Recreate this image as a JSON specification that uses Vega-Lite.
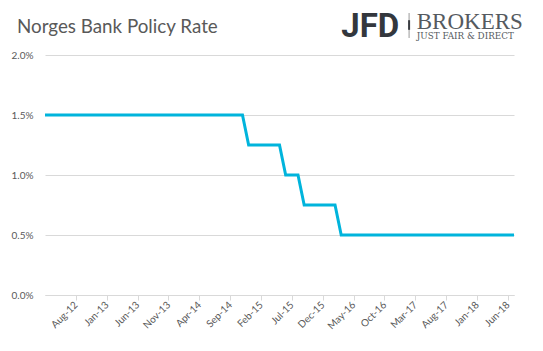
{
  "$schema": "https://vega.github.io/schema/vega-lite/v6.json",
  "width": 469,
  "height": 240,
  "autosize": {"type": "none"},
  "padding": {"left": 45, "top": 55, "right": 29, "bottom": 56},
  "background": "white",
  "config": {
    "view": {"stroke": null},
    "font": "Lato",
    "axis": {
      "labelFont": "Lato",
      "labelFontSize": 10,
      "labelColor": "#595959",
      "gridColor": "#d9d9d9",
      "domainColor": "#d9d9d9",
      "tickColor": "#d9d9d9"
    }
  },
  "datasets": {
    "rates": [
      {"month": "Mar-12", "rate": 0.015},
      {"month": "Apr-12", "rate": 0.015},
      {"month": "May-12", "rate": 0.015},
      {"month": "Jun-12", "rate": 0.015},
      {"month": "Jul-12", "rate": 0.015},
      {"month": "Aug-12", "rate": 0.015},
      {"month": "Sep-12", "rate": 0.015},
      {"month": "Oct-12", "rate": 0.015},
      {"month": "Nov-12", "rate": 0.015},
      {"month": "Dec-12", "rate": 0.015},
      {"month": "Jan-13", "rate": 0.015},
      {"month": "Feb-13", "rate": 0.015},
      {"month": "Mar-13", "rate": 0.015},
      {"month": "Apr-13", "rate": 0.015},
      {"month": "May-13", "rate": 0.015},
      {"month": "Jun-13", "rate": 0.015},
      {"month": "Jul-13", "rate": 0.015},
      {"month": "Aug-13", "rate": 0.015},
      {"month": "Sep-13", "rate": 0.015},
      {"month": "Oct-13", "rate": 0.015},
      {"month": "Nov-13", "rate": 0.015},
      {"month": "Dec-13", "rate": 0.015},
      {"month": "Jan-14", "rate": 0.015},
      {"month": "Feb-14", "rate": 0.015},
      {"month": "Mar-14", "rate": 0.015},
      {"month": "Apr-14", "rate": 0.015},
      {"month": "May-14", "rate": 0.015},
      {"month": "Jun-14", "rate": 0.015},
      {"month": "Jul-14", "rate": 0.015},
      {"month": "Aug-14", "rate": 0.015},
      {"month": "Sep-14", "rate": 0.015},
      {"month": "Oct-14", "rate": 0.015},
      {"month": "Nov-14", "rate": 0.015},
      {"month": "Dec-14", "rate": 0.0125},
      {"month": "Jan-15", "rate": 0.0125},
      {"month": "Feb-15", "rate": 0.0125},
      {"month": "Mar-15", "rate": 0.0125},
      {"month": "Apr-15", "rate": 0.0125},
      {"month": "May-15", "rate": 0.0125},
      {"month": "Jun-15", "rate": 0.01},
      {"month": "Jul-15", "rate": 0.01},
      {"month": "Aug-15", "rate": 0.01},
      {"month": "Sep-15", "rate": 0.0075},
      {"month": "Oct-15", "rate": 0.0075},
      {"month": "Nov-15", "rate": 0.0075},
      {"month": "Dec-15", "rate": 0.0075},
      {"month": "Jan-16", "rate": 0.0075},
      {"month": "Feb-16", "rate": 0.0075},
      {"month": "Mar-16", "rate": 0.005},
      {"month": "Apr-16", "rate": 0.005},
      {"month": "May-16", "rate": 0.005},
      {"month": "Jun-16", "rate": 0.005},
      {"month": "Jul-16", "rate": 0.005},
      {"month": "Aug-16", "rate": 0.005},
      {"month": "Sep-16", "rate": 0.005},
      {"month": "Oct-16", "rate": 0.005},
      {"month": "Nov-16", "rate": 0.005},
      {"month": "Dec-16", "rate": 0.005},
      {"month": "Jan-17", "rate": 0.005},
      {"month": "Feb-17", "rate": 0.005},
      {"month": "Mar-17", "rate": 0.005},
      {"month": "Apr-17", "rate": 0.005},
      {"month": "May-17", "rate": 0.005},
      {"month": "Jun-17", "rate": 0.005},
      {"month": "Jul-17", "rate": 0.005},
      {"month": "Aug-17", "rate": 0.005},
      {"month": "Sep-17", "rate": 0.005},
      {"month": "Oct-17", "rate": 0.005},
      {"month": "Nov-17", "rate": 0.005},
      {"month": "Dec-17", "rate": 0.005},
      {"month": "Jan-18", "rate": 0.005},
      {"month": "Feb-18", "rate": 0.005},
      {"month": "Mar-18", "rate": 0.005},
      {"month": "Apr-18", "rate": 0.005},
      {"month": "May-18", "rate": 0.005},
      {"month": "Jun-18", "rate": 0.005},
      {"month": "Jul-18", "rate": 0.005}
    ],
    "one": [{}]
  },
  "layer": [
    {
      "data": {"name": "rates"},
      "mark": {"type": "line", "color": "#00b4dc", "strokeWidth": 3, "strokeCap": "butt", "strokeJoin": "miter"},
      "encoding": {
        "x": {
          "field": "month",
          "type": "ordinal",
          "sort": null,
          "scale": {"type": "point", "padding": 0},
          "axis": {
            "title": null,
            "values": ["Mar-12", "Aug-12", "Jan-13", "Jun-13", "Nov-13", "Apr-14", "Sep-14", "Feb-15", "Jul-15", "Dec-15", "May-16", "Oct-16", "Mar-17", "Aug-17", "Jan-18", "Jun-18"],
            "labelAngle": -45,
            "labelAlign": "right",
            "labelBaseline": "middle",
            "labelPadding": 3,
            "labelOverlap": false,
            "labelBound": false,
            "labelFlush": false,
            "tickSize": 5,
            "grid": false,
            "domain": true
          }
        },
        "y": {
          "field": "rate",
          "type": "quantitative",
          "scale": {"domain": [0, 0.02], "nice": false},
          "axis": {
            "title": null,
            "values": [0, 0.005, 0.01, 0.015, 0.02],
            "format": ".1%",
            "domain": false,
            "ticks": false,
            "grid": true,
            "labelPadding": 12
          }
        }
      }
    },
    {
      "data": {"name": "one"},
      "mark": {"type": "text", "text": "Norges Bank Policy Rate", "font": "Lato", "fontSize": 18.8, "align": "left", "baseline": "alphabetic", "color": "#595959", "dx": -28},
      "encoding": {
        "x": {"datum": "Mar-12"},
        "y": {"datum": 0.021833, "scale": {"domain": [0, 0.02], "nice": false}}
      }
    },
    {
      "data": {"name": "one"},
      "mark": {"type": "text", "text": "JFD", "font": "Roboto", "fontWeight": "bold", "fontSize": 33, "align": "left", "baseline": "alphabetic", "color": "#33373d"},
      "encoding": {
        "x": {"datum": "Mar-16"},
        "y": {"datum": 0.021525, "scale": {"domain": [0, 0.02], "nice": false}}
      }
    },
    {
      "data": {"name": "one"},
      "mark": {"type": "rule", "color": "#9a9a9a", "strokeWidth": 1},
      "encoding": {
        "x": {"datum": "Feb-17"},
        "y": {"datum": 0.0235, "scale": {"domain": [0, 0.02], "nice": false}},
        "y2": {"datum": 0.021417}
      }
    },
    {
      "data": {"name": "one"},
      "mark": {"type": "rule", "color": "#3a3d42", "strokeWidth": 2},
      "encoding": {
        "x": {"datum": "Feb-17"},
        "y": {"datum": 0.0229, "scale": {"domain": [0, 0.02], "nice": false}},
        "y2": {"datum": 0.0221}
      }
    },
    {
      "data": {"name": "one"},
      "mark": {"type": "text", "text": "BROKERS", "font": "Liberation Serif", "fontSize": 23, "align": "left", "baseline": "alphabetic", "color": "#555a60", "dx": 1.5},
      "encoding": {
        "x": {"datum": "Mar-17"},
        "y": {"datum": 0.022142, "scale": {"domain": [0, 0.02], "nice": false}}
      }
    },
    {
      "data": {"name": "one"},
      "mark": {"type": "text", "text": "JUST FAIR & DIRECT", "font": "DejaVu Serif", "fontSize": 8.8, "align": "left", "baseline": "alphabetic", "color": "#555a60", "dx": 1.5},
      "encoding": {
        "x": {"datum": "Mar-17"},
        "y": {"datum": 0.021308, "scale": {"domain": [0, 0.02], "nice": false}}
      }
    }
  ]
}
